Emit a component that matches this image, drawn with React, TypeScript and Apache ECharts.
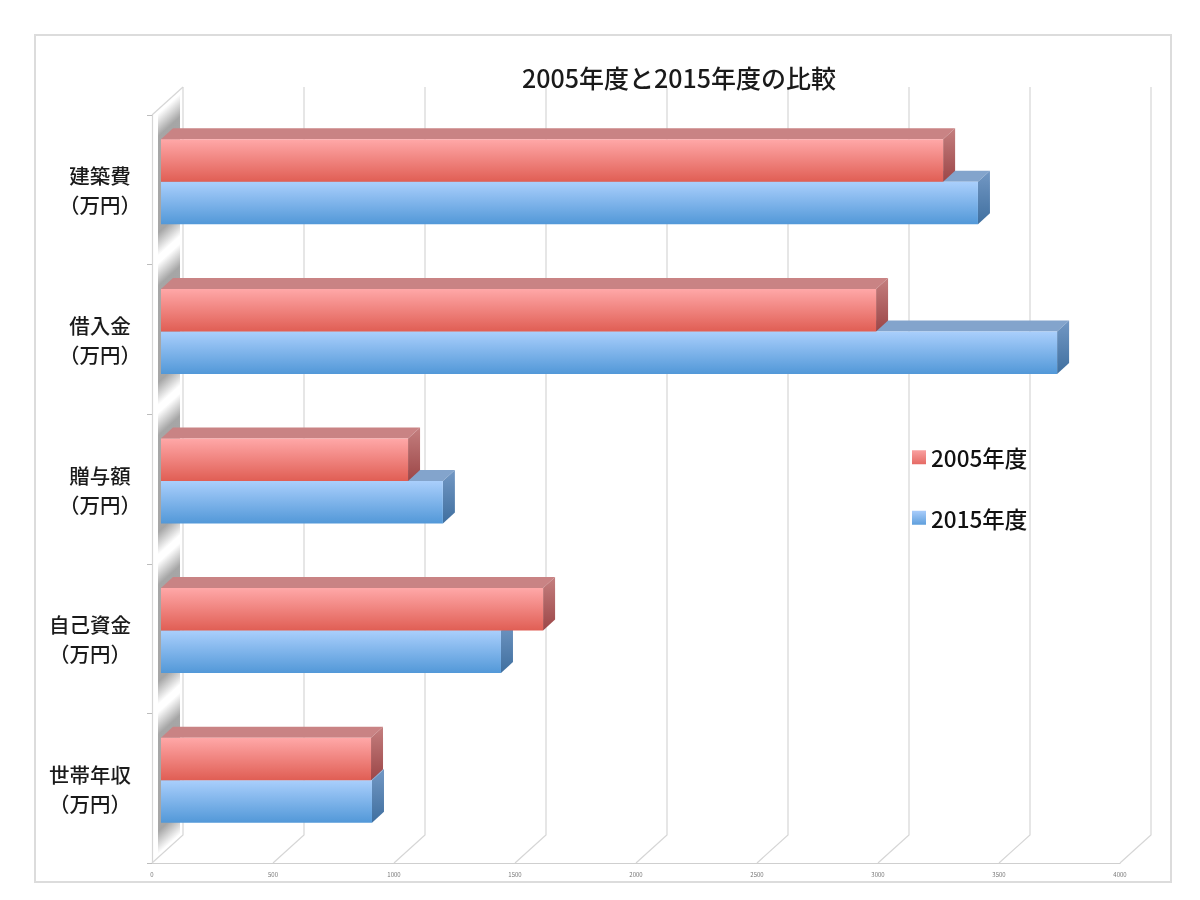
import React, { useEffect, useRef } from "react";
import * as echarts from "echarts";

const categories = ["建築費\n（万円）", "借入金\n（万円）", "贈与額\n（万円）", "自己資金\n（万円）", "世帯年収\n（万円）"];
const values2005 = [3236, 2959, 1025, 1583, 872];
const values2015 = [3380, 3707, 1169, 1409, 876];
const xTicks = [0, 500, 1000, 1500, 2000, 2500, 3000, 3500, 4000];
const seriesNames = ["2005年度", "2015年度"];

const FONT = '"Noto Sans CJK JP", "Noto Sans", sans-serif';
const WALL_DX = 31;
const WALL_DY = -28;
const BAR_SHIFT = 8;
const BAR_DX = 12;
const BAR_DY = -11;
const BAR_H = 42.5;

const grad = (a: string, b: string) =>
  new echarts.graphic.LinearGradient(0, 0, 0, 1, [
    { offset: 0, color: a },
    { offset: 1, color: b },
  ]);

const barRenderer = (upper: boolean, c: { front: string[]; top: string; side: string[] }) =>
  (_p: any, api: any) => {
    const v = api.value(0);
    const idx = api.value(1);
    const [x0, yc] = api.coord([0, idx]);
    const [x1] = api.coord([v, idx]);
    const yMid = yc - BAR_SHIFT;
    const left = x0 + BAR_SHIFT + 1;
    const right = x1 + BAR_SHIFT;
    const top = upper ? yMid - BAR_H : yMid;
    const bottom = top + BAR_H;
    return {
      type: "group",
      children: [
        {
          type: "polygon",
          shape: { points: [[left, top], [left + BAR_DX, top + BAR_DY], [right + BAR_DX, top + BAR_DY], [right, top]] },
          style: { fill: c.top },
        },
        {
          type: "polygon",
          shape: { points: [[right, top], [right + BAR_DX, top + BAR_DY], [right + BAR_DX, bottom + BAR_DY], [right, bottom]] },
          style: { fill: grad(c.side[0], c.side[1]) },
        },
        {
          type: "rect",
          shape: { x: left, y: top, width: right - left, height: BAR_H },
          style: { fill: grad(c.front[0], c.front[1]) },
        },
      ],
    };
  };

const frameRenderer = (params: any, api: any) => {
  const value = api.value(0);
  const x = api.coord([value, 0])[0];
  const cs = params.coordSys;
  const bottom = cs.y + cs.height;
  const lineStyle = { fill: "none", stroke: "#d6d6d6", lineWidth: 1.2 };
  const children: any[] = [
    {
      type: "polyline",
      shape: { points: [[x, bottom], [x + WALL_DX, bottom + WALL_DY], [x + WALL_DX, cs.y + WALL_DY]] },
      style: lineStyle,
    },
  ];
  if (value === 0) {
    children.push({
      type: "polyline",
      shape: { points: [[x, cs.y], [x + WALL_DX, cs.y + WALL_DY]] },
      style: lineStyle,
    });
  }
  return { type: "group", children };
};

const wallRenderer = (_p: any, api: any) => {
  const yc = api.coord([0, api.value(1)])[1];
  const x0 = api.coord([0, 0])[0] + 6;
  const x1 = x0 + 22;
  const top = yc - 76;
  const bottom = yc + 66;
  const gray = "rgba(150,150,150,";
  return {
    type: "polygon",
    shape: { points: [[x0, top], [x1, top - 20], [x1, bottom - 20], [x0, bottom]] },
    style: {
      fill: new echarts.graphic.LinearGradient(
        x0,
        top,
        x0 + 70.6,
        top + 78.2,
        [
          { offset: 0, color: gray + "0)" },
          { offset: 0.16, color: gray + "0.85)" },
          { offset: 0.84, color: gray + "0.85)" },
          { offset: 1, color: gray + "0)" },
        ],
        true
      ),
    },
  };
};

export default function App() {
  const ref = useRef<HTMLDivElement>(null);
  useEffect(() => {
    document.body.style.margin = "0";
    const chart = echarts.init(ref.current!, undefined, { renderer: "svg" });
    chart.setOption({
      animation: false,
      backgroundColor: "#ffffff",
      textStyle: { fontFamily: FONT },
      title: {
        text: "2005年度と2015年度の比較",
        left: 674,
        top: 59,
        textAlign: "center",
        textStyle: { fontFamily: FONT, fontSize: 25, fontWeight: 500, color: "#1a1a1a" },
      },
      legend: {
        orient: "vertical",
        left: 907,
        top: 441,
        itemWidth: 14,
        itemHeight: 14,
        itemGap: 38,
        icon: "rect",
        data: [
          { name: seriesNames[0], itemStyle: { color: grad("#f9a0a0", "#e56a64") } },
          { name: seriesNames[1], itemStyle: { color: grad("#a9cdfb", "#5f9fdc") } },
        ],
        textStyle: { fontFamily: FONT, fontSize: 22.5, fontWeight: 500, color: "#111111" },
      },
      grid: { left: 152, top: 115, width: 968, height: 748, outerBoundsMode: "none" },
      xAxis: {
        type: "value",
        min: 0,
        max: 4000,
        interval: 500,
        splitLine: { show: false },
        axisTick: { show: false },
        axisLine: { show: true, lineStyle: { color: "#cfcfcf", width: 1.2 } },
        axisLabel: { fontSize: 6, color: "#777777", margin: 8, fontFamily: FONT, formatter: (v: number) => String(v) },
      },
      yAxis: {
        type: "category",
        inverse: true,
        data: categories.map((c) =>
          c.length > 8 ? { value: c, textStyle: { align: "center", padding: [0, 20, 0, 0] } } : c
        ),
        axisLine: { show: true, lineStyle: { color: "#d6d6d6", width: 1.2 } },
        axisTick: { show: true, length: 5, lineStyle: { color: "#bdbdbd" } },
        axisLabel: {
          align: "center",
          margin: 52,
          fontSize: 20.5,
          fontWeight: 500,
          lineHeight: 29,
          color: "#1a1a1a",
          fontFamily: FONT,
        },
      },
      graphic: [
        {
          type: "rect",
          z: -1,
          shape: { x: 35, y: 35, width: 1136, height: 847 },
          style: { fill: "none", stroke: "#dcdcdc", lineWidth: 2 },
        },
      ],
      series: [
        {
          type: "custom",
          name: "frame",
          z: 1,
          silent: true,
          renderItem: frameRenderer,
          encode: { x: 0, y: 1 },
          data: xTicks.map((t) => [t, 0]),
        },
        {
          type: "custom",
          name: "wall",
          z: 2,
          silent: true,
          renderItem: wallRenderer,
          encode: { x: 0, y: 1 },
          data: categories.map((_, i) => [0, i]),
        },
        {
          type: "custom",
          name: seriesNames[1],
          z: 3,
          renderItem: barRenderer(false, {
            front: ["#aacffc", "#5298d8"],
            top: "#83a4cc",
            side: ["#7398c4", "#3f6f9f"],
          }),
          itemStyle: { color: "#7fb3ec" },
          encode: { x: 0, y: 1 },
          data: values2015.map((v, i) => [v, i]),
        },
        {
          type: "custom",
          name: seriesNames[0],
          z: 4,
          renderItem: barRenderer(true, {
            front: ["#ffa8a8", "#e05e54"],
            top: "#c98384",
            side: ["#c47f7f", "#9c4647"],
          }),
          itemStyle: { color: "#f08a86" },
          encode: { x: 0, y: 1 },
          data: values2005.map((v, i) => [v, i]),
        },
      ],
    });
    return () => chart.dispose();
  }, []);
  return <div ref={ref} style={{ width: 1200, height: 900, filter: "blur(0.5px)" }} />;
}
